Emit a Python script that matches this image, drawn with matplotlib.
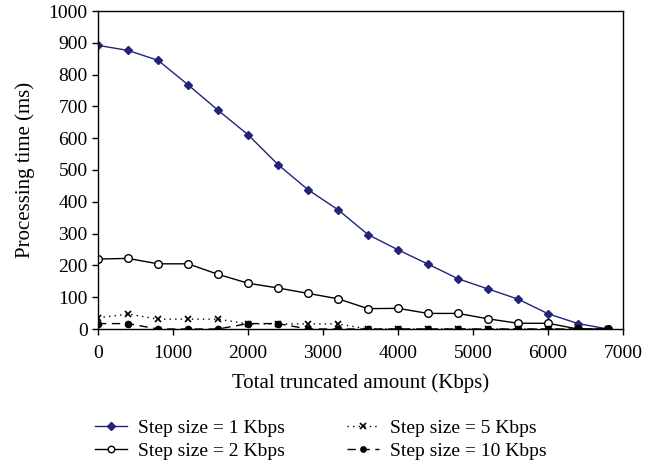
import matplotlib
matplotlib.use("Agg")
import matplotlib.pyplot as plt
from matplotlib.ticker import MultipleLocator

x = [0, 400, 800, 1200, 1600, 2000, 2400, 2800, 3200, 3600, 4000, 4400, 4800, 5200, 5600, 6000, 6400, 6800]
step1 = [892, 876, 845, 768, 688, 611, 517, 438, 375, 297, 249, 204, 158, 126, 94, 48, 17, 0]
step2 = [220, 222, 205, 205, 172, 144, 129, 112, 95, 64, 65, 49, 49, 32, 18, 18, 0, 0]
step5 = [35, 47, 31, 31, 31, 16, 16, 16, 16, 0, 0, 0, 0, 0, 0, 0, 0, 0]
step10 = [17, 17, 0, 0, 0, 17, 17, 0, 0, 0, 0, 0, 0, 0, 0, 0, 0, 0]
labels = ["Step size = 1 Kbps", "Step size = 2 Kbps", "Step size = 5 Kbps", "Step size = 10 Kbps"]

plt.rcParams['font.family'] = ['Liberation Serif', 'DejaVu Serif']

fig = plt.figure(figsize=(6.64, 4.66), dpi=100)
ax = fig.add_axes([98/664, 1 - 329/466, (623-98)/664, (329-11)/466])

navy = '#22237a'
l1, = ax.plot(x, step1, color=navy, lw=1.0, marker='D', ms=4.5, mfc=navy, mec=navy)
l2, = ax.plot(x, step2, color='black', lw=1.0, marker='o', ms=5.5, mfc='white', mec='black', mew=1.0)
l5, = ax.plot(x, step5, color='black', lw=1.0, ls=(0, (1, 3)), marker='x', ms=5, mew=1.2)
l10, = ax.plot(x, step10, color='black', lw=1.0, ls=(0, (6, 4)), marker='o', ms=4.5, mfc='black', mec='black')

ax.set_xlim(0, 7000)
ax.set_ylim(0, 1000)
ax.xaxis.set_major_locator(MultipleLocator(1000))
ax.yaxis.set_major_locator(MultipleLocator(100))
ax.tick_params(direction='out', length=4.5, width=1, labelsize=14)
ax.tick_params(axis='x', pad=7)
ax.tick_params(axis='y', pad=3)
for s in ax.spines.values():
    s.set_linewidth(1.0)

ax.set_xlabel("Total truncated amount (Kbps)", fontsize=15)
ax.set_ylabel("Processing time (ms)", fontsize=15)
ax.xaxis.label.set_va('center')
ax.yaxis.label.set_va('center')
ax.xaxis.set_label_coords(0.5, (329 - 383) / 318)
ax.yaxis.set_label_coords((25 - 98) / 525, 0.5)

leg = fig.legend([l1, l2, l5, l10], labels, loc='center left',
                 bbox_to_anchor=(95/664, 1 - 439.5/466),
                 ncol=2, frameon=False, fontsize=14, columnspacing=3.2, handlelength=1.65,
                 labelspacing=0.29, handletextpad=0.57, borderpad=0, borderaxespad=0,
                 markerscale=0.85)

fig.savefig("out.png", dpi=100)
